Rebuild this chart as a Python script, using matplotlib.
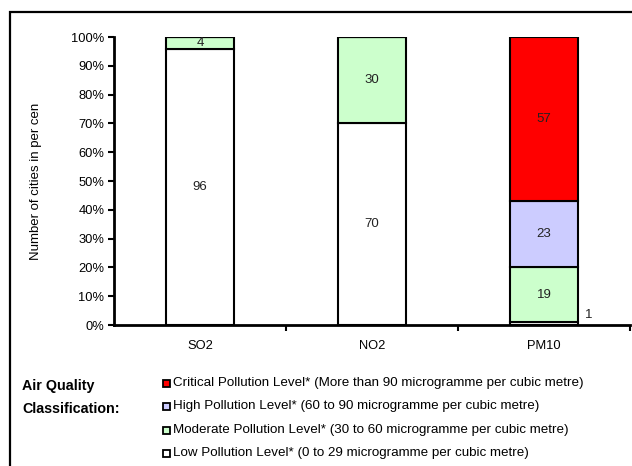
import matplotlib
matplotlib.use("Agg")
import matplotlib.pyplot as plt
from matplotlib.patches import Rectangle
import numpy as np

plt.rcParams['font.family'] = ['Liberation Sans', 'DejaVu Sans']

pollutants = ["SO2", "NO2", "PM10"]
low = [96, 70, 1]
moderate = [4, 30, 19]
high = [0, 0, 23]
critical = [0, 0, 57]

colors = ["#FFFFFF", "#CCFFCC", "#CCCCFF", "#FF0000"]
legend_labels = [
    "Critical Pollution Level* (More than 90 microgramme per cubic metre)",
    "High Pollution Level* (60 to 90 microgramme per cubic metre)",
    "Moderate Pollution Level* (30 to 60 microgramme per cubic metre)",
    "Low Pollution Level* (0 to 29 microgramme per cubic metre)",
]
legend_colors = ["#FF0000", "#CCCCFF", "#CCFFCC", "#FFFFFF"]
y_ticks = [0, 10, 20, 30, 40, 50, 60, 70, 80, 90, 100]

W, H = 632, 466
fig = plt.figure(figsize=(W / 100, H / 100), dpi=100)
fig.patch.set_facecolor("white")

# outer frame (open on the right and bottom edges of the image)
fig.add_artist(Rectangle((9.5 / W, -0.1), 1.2, 1.1 - 12.5 / H,
                         transform=fig.transFigure, fill=False,
                         edgecolor="black", linewidth=1.6))

ax = fig.add_axes([114 / W, (H - 325) / H, (630 - 114) / W, (325 - 37) / H])

x = np.arange(len(pollutants))
series = [low, moderate, high, critical]
bottom = np.zeros(len(pollutants))
for vals, col in zip(series, colors):
    vals = np.array(vals, dtype=float)
    ax.bar(x, vals, width=0.395, bottom=bottom, color=col,
           edgecolor="black", linewidth=1.5, zorder=2)
    for i, v in enumerate(vals):
        if v <= 0:
            continue
        if v < 3:
            ax.text(x[i] + 0.26, bottom[i] + 3.5, f"{int(v)}", ha="center",
                    va="center", fontsize=9.5, color="#222222")
        else:
            ax.text(x[i], bottom[i] + v / 2, f"{int(v)}", ha="center",
                    va="center", fontsize=9.5, color="#222222", zorder=3)
    bottom += vals

ax.set_xlim(-0.5, 2.5)
ax.set_ylim(0, 100)
ax.set_yticks(y_ticks)
ax.set_yticklabels([f"{t}%" for t in y_ticks], fontsize=9.3)
ax.set_xticks(x)
ax.set_xticklabels(pollutants, fontsize=9.3)
ax.set_xticks([0.5, 1.5, 2.5], minor=True)
ax.tick_params(axis="x", which="major", length=0, pad=11)
ax.tick_params(axis="x", which="minor", length=4, width=1.5, direction="out")
ax.tick_params(axis="y", length=4, width=1.5, direction="out", pad=3)
for s in ["top", "right"]:
    ax.spines[s].set_visible(False)
for s in ["left", "bottom"]:
    ax.spines[s].set_linewidth(2)
    ax.spines[s].set_zorder(4)
ax.set_ylabel("Number of cities in per cen", fontsize=9.5)
ax.yaxis.set_label_coords((42 - 114) / 516, 0.5)

# classification key
fig.text(22 / W, 1 - 386 / H, "Air Quality", fontsize=10.3, fontweight="bold",
         ha="left", va="center")
fig.text(22 / W, 1 - 409 / H, "Classification:", fontsize=10.3,
         fontweight="bold", ha="left", va="center")
rows_y = [383, 406.5, 430, 453]
for yy, lab, col in zip(rows_y, legend_labels, legend_colors):
    fig.add_artist(Rectangle((163 / W, 1 - (yy + 3.5) / H), 7 / W, 7 / H,
                             transform=fig.transFigure, facecolor=col,
                             edgecolor="black", linewidth=1.3))
    fig.text(173 / W, 1 - yy / H, lab, fontsize=9.6, ha="left", va="center")

fig.savefig("out.png", dpi=100, facecolor="white")
